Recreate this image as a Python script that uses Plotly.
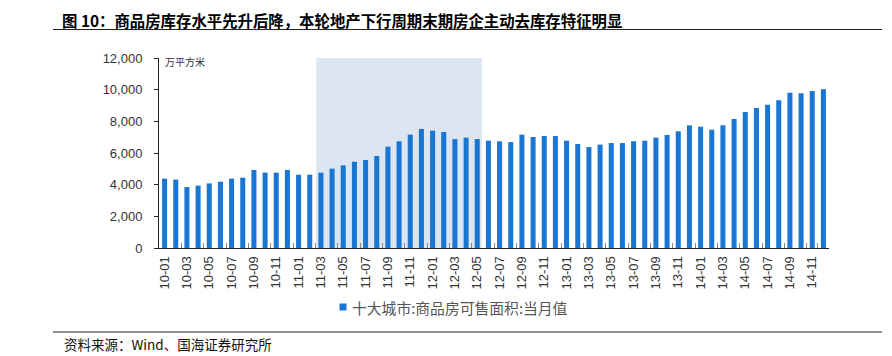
import plotly.graph_objects as go

months = [
    "10-01","10-02","10-03","10-04","10-05","10-06","10-07","10-08","10-09","10-10","10-11","10-12",
    "11-01","11-02","11-03","11-04","11-05","11-06","11-07","11-08","11-09","11-10","11-11","11-12",
    "12-01","12-02","12-03","12-04","12-05","12-06","12-07","12-08","12-09","12-10","12-11","12-12",
    "13-01","13-02","13-03","13-04","13-05","13-06","13-07","13-08","13-09","13-10","13-11","13-12",
    "14-01","14-02","14-03","14-04","14-05","14-06","14-07","14-08","14-09","14-10","14-11","14-12",
]
inventory = [
    4380, 4320, 3850, 3940, 4080, 4190, 4380, 4440, 4930, 4760, 4760, 4930,
    4630, 4630, 4760, 5010, 5220, 5450, 5560, 5810, 6400, 6740, 7160, 7520,
    7410, 7330, 6880, 6970, 6880, 6780, 6740, 6690, 7160, 7010, 7070, 7070,
    6780, 6570, 6380, 6530, 6630, 6630, 6740, 6780, 6970, 7140, 7370, 7750,
    7660, 7470, 7750, 8150, 8590, 8840, 9050, 9330, 9810, 9770, 9920, 10020,
]
tick_labels = months[::2]
shade_start, shade_end = "11-03", "12-05"
series_name = "十大城市:商品房可售面积:当月值"
title_text = "图 10：商品房库存水平先升后降，本轮地产下行周期末期房企主动去库存特征明显"
source_text = "资料来源：Wind、国海证券研究所"
unit_text = "万平方米"

# page body has an 8px margin; work in page pixels and convert
OFF = 8
W, H = 884, 348
L, R, T, B = 151, 63, 50, 108
pw, ph = W - L - R, H - T - B

def px_x(x):
    return (x - OFF - L) / pw

def px_y(y):
    return (H - B - (y - OFF)) / ph

CJK = "Noto Sans CJK SC"
BAR = "#1976D2"

fig = go.Figure()
fig.add_trace(go.Bar(x=months, y=inventory, marker_color=BAR, name=series_name,
                     showlegend=False, marker_line_width=0))

i0 = months.index(shade_start)
i1 = months.index(shade_end)
fig.add_shape(type="rect", xref="x", yref="y", x0=i0 - 0.42, x1=i1 + 0.42, y0=0, y1=12000,
              fillcolor="#DCE6F2", line_width=0, layer="below")

# title and rules
fig.add_annotation(text=title_text, xref="paper", yref="paper", x=px_x(61), y=px_y(8.3),
                   xanchor="left", yanchor="top", showarrow=False, borderpad=0,
                   font=dict(family=CJK, size=15.4, color="#000000", weight="bold"))
fig.add_shape(type="line", xref="paper", yref="paper", x0=px_x(53), x1=px_x(882),
              y0=px_y(29.5), y1=px_y(29.5), line=dict(color="#222222", width=1.2))
fig.add_shape(type="line", xref="paper", yref="paper", x0=px_x(53), x1=px_x(882),
              y0=px_y(332), y1=px_y(332), line=dict(color="#222222", width=1.2))
fig.add_annotation(text=source_text, xref="paper", yref="paper", x=px_x(62), y=px_y(344),
                   xanchor="left", yanchor="middle", showarrow=False,
                   font=dict(family=CJK, size=13.5, color="#111111"))
fig.add_annotation(text=unit_text, xref="paper", yref="paper", x=px_x(163), y=px_y(61),
                   xanchor="left", yanchor="middle", showarrow=False,
                   font=dict(family=CJK, size=10, color="#333333"))

# legend (marker + label)
fig.add_shape(type="rect", xref="paper", yref="paper", x0=px_x(339.5), x1=px_x(346.5),
              y0=px_y(303.5), y1=px_y(310.5), fillcolor=BAR, line_width=0)
fig.add_annotation(text=series_name, xref="paper", yref="paper", x=px_x(350), y=px_y(307),
                   xanchor="left", yanchor="middle", showarrow=False,
                   font=dict(family=CJK, size=14.8, color="#555555"))

fig.update_layout(
    width=W, height=H,
    margin=dict(l=L, r=R, t=T, b=B),
    paper_bgcolor="white", plot_bgcolor="rgba(0,0,0,0)",
    bargap=0.55,
    showlegend=False,
    font=dict(family="Liberation Sans, Arial", color="#333333"),
)
fig.update_xaxes(
    type="category", range=[-0.5, len(months) - 0.5],
    tickmode="array", tickvals=tick_labels, ticktext=tick_labels,
    tickangle=-90, tickfont=dict(family="Liberation Sans, Arial", size=13, color="#333333"),
    showline=True, linecolor="#222222", linewidth=1,
    ticks="inside", ticklen=5, tickcolor="#888888", tickson="boundaries",
    ticklabelstandoff=2,
    showgrid=False, zeroline=False, fixedrange=True,
)
fig.update_yaxes(
    range=[0, 12000], dtick=2000, tickformat=",d",
    tickfont=dict(family="Liberation Sans, Arial", size=13, color="#333333"),
    showline=True, linecolor="#222222", linewidth=1,
    ticks="outside", ticklen=4, tickcolor="#222222", ticklabelstandoff=9,
    showgrid=False, zeroline=False, fixedrange=True,
)

fig.write_html("out.html")
